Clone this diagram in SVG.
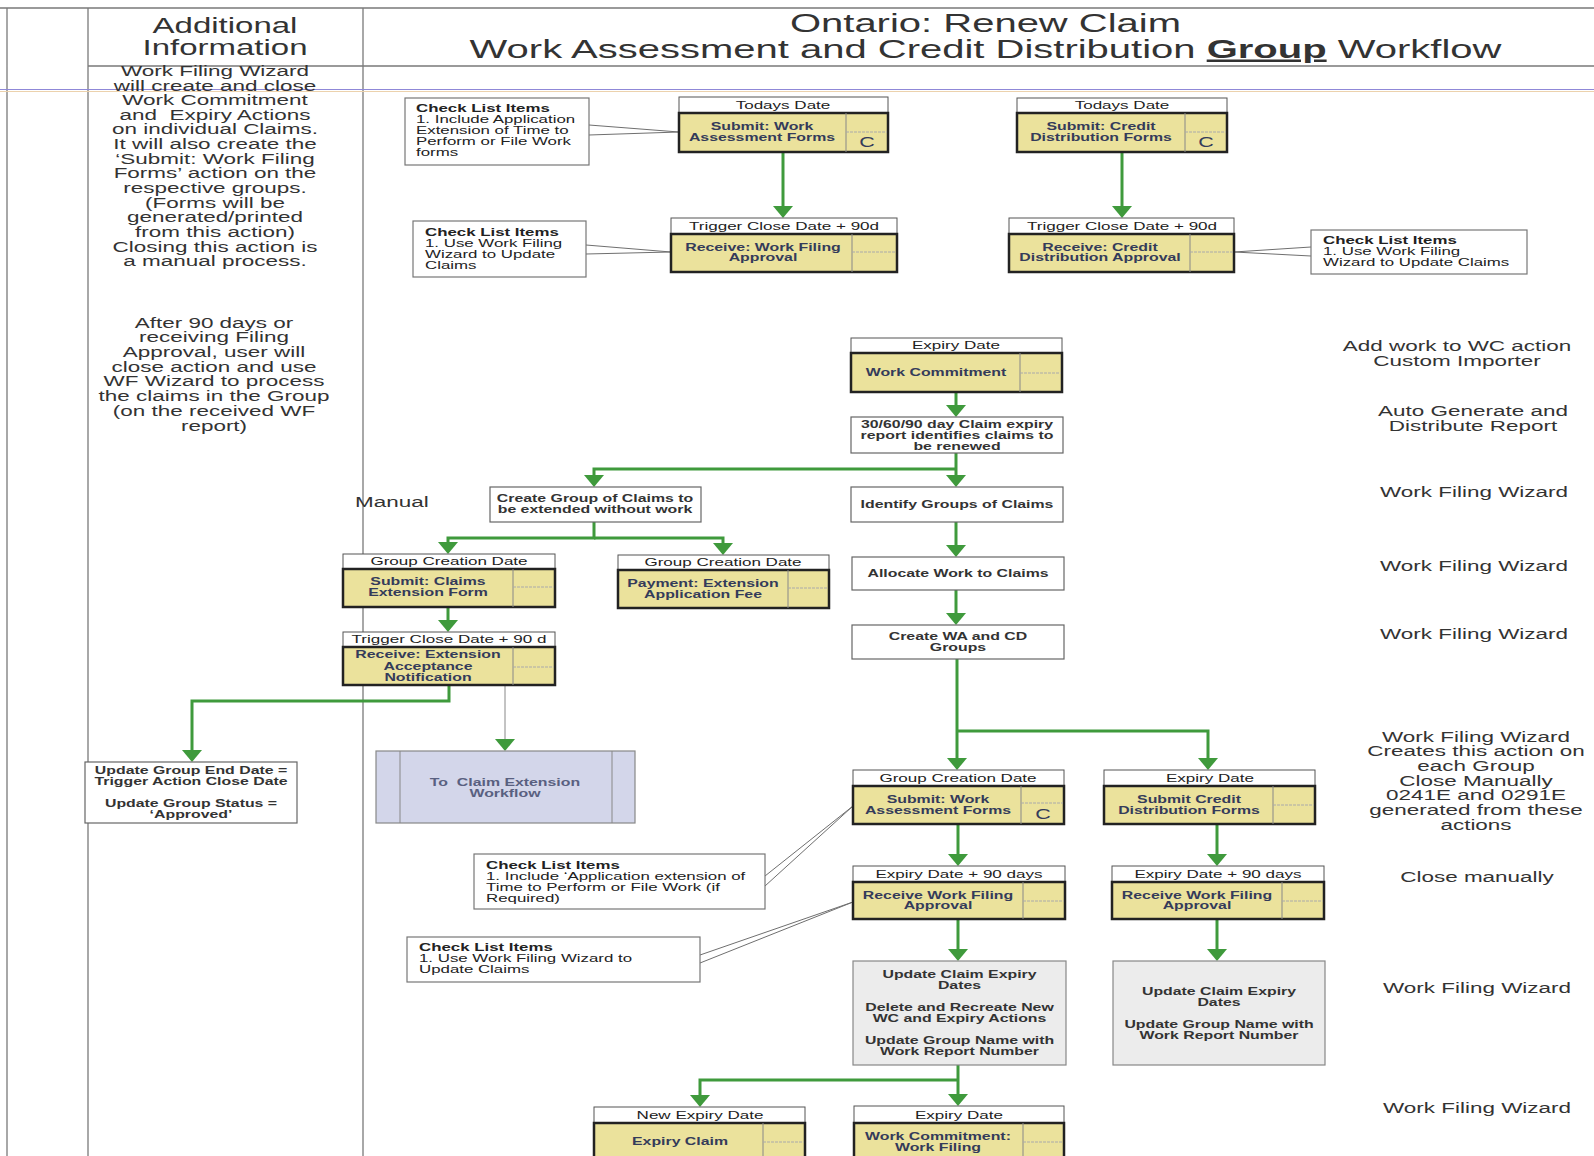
<svg xmlns="http://www.w3.org/2000/svg" width="1594" height="1156" viewBox="0 0 1594 1156">
<defs>
<style>
text{font-family:"Liberation Sans",Arial,sans-serif}
.frame{fill:none;stroke:#7a7a7a;stroke-width:1.3}
.hd{fill:#fff;stroke:#555;stroke-width:1}
.bd{fill:#ebe29c;stroke:#222;stroke-width:2.5}
.col{fill:none;stroke:#888;stroke-width:1}
.dv{fill:none;stroke:#aaa;stroke-width:1;stroke-dasharray:3 1}
.pb{fill:#fff;stroke:#666;stroke-width:1.2}
.ub{fill:#ececec;stroke:#888;stroke-width:1.2}
.xb{fill:#d3d6ea;stroke:#888;stroke-width:1.2}
.cl{fill:#fff;stroke:#777;stroke-width:1.2}
.co{fill:none;stroke:#6f6f6f;stroke-width:1}
.flow{fill:none;stroke:#3f9a3c;stroke-width:3}
.thin{fill:none;stroke:#888;stroke-width:1}
.t{font-size:25px;fill:#333;text-anchor:middle}
.ai{font-size:22px;fill:#333;text-anchor:middle}
.n{font-size:14.5px;fill:#333;text-anchor:middle}
.h{font-size:11px;fill:#222;text-anchor:middle}
.b{font-size:10.5px;font-weight:bold;fill:#343b5a;text-anchor:middle}
.g{font-size:10.5px;font-weight:bold;fill:#333;text-anchor:middle}
.x{font-size:10.5px;font-weight:bold;fill:#596080;text-anchor:middle}
.c{font-size:10.8px;fill:#222}
.c .k{font-weight:bold}
.cc{font-size:15px;fill:#343b5a;text-anchor:middle}
</style>
<marker id="ah" markerUnits="userSpaceOnUse" markerWidth="12" markerHeight="20" refX="0" refY="10" orient="auto" viewBox="0 0 12 20"><path d="M0,0 L12,10 L0,20 Z" fill="#3f9a3c"/></marker>
</defs>
<rect width="1594" height="1156" fill="#fff"/>

<g id="frame">
<path class="frame" d="M0,8 H1594 M7,8 V1156 M88,8 V1156 M363,8 V1156 M88,66 H1594"/>
<path d="M0,89.5 H1594" stroke="#8f88d8" stroke-width="1"/>
<path d="M0,91.5 H1594" stroke="#ecd2ad" stroke-width="1"/>
</g>

<g id="headings">
<text class="t" transform="matrix(1.6 0 0 1 985.5 0)"><tspan x="0" y="32">Ontario: Renew Claim</tspan><tspan x="0" y="58">Work Assessment and Credit Distribution <tspan font-weight="bold" text-decoration="underline">Group</tspan> Workflow</tspan></text>
<text class="ai" transform="matrix(1.5 0 0 1 225 0)"><tspan x="0" y="33">Additional</tspan><tspan x="0" y="55.5">Information</tspan></text>
</g>

<g id="notes">
<text class="n" transform="matrix(1.55 0 0 1 215 0)" xml:space="preserve"><tspan x="0" y="76">Work Filing Wizard</tspan><tspan x="0" y="90.6">will create and close</tspan><tspan x="0" y="105.3">Work Commitment</tspan><tspan x="0" y="119.9">and  Expiry Actions</tspan><tspan x="0" y="134.5">on individual Claims.</tspan><tspan x="0" y="149.2">It will also create the</tspan><tspan x="0" y="163.8">‘Submit: Work Filing</tspan><tspan x="0" y="178.5">Forms’ action on the</tspan><tspan x="0" y="193.1">respective groups.</tspan><tspan x="0" y="207.7">(Forms will be</tspan><tspan x="0" y="222.4">generated/printed</tspan><tspan x="0" y="237">from this action)</tspan><tspan x="0" y="251.6">Closing this action is</tspan><tspan x="0" y="266.3">a manual process.</tspan></text>
<text class="n" transform="matrix(1.55 0 0 1 214 0)"><tspan x="0" y="327.7">After 90 days or</tspan><tspan x="0" y="342.4">receiving Filing</tspan><tspan x="0" y="357.1">Approval, user will</tspan><tspan x="0" y="371.8">close action and use</tspan><tspan x="0" y="386.5">WF Wizard to process</tspan><tspan x="0" y="401.2">the claims in the Group</tspan><tspan x="0" y="415.9">(on the received WF</tspan><tspan x="0" y="430.6">report)</tspan></text>
<text class="n" transform="matrix(1.55 0 0 1 355 0)" style="text-anchor:start"><tspan x="0" y="507.5">Manual</tspan></text>
<text class="n" transform="matrix(1.55 0 0 1 1457 0)"><tspan x="0" y="351">Add work to WC action</tspan><tspan x="0" y="365.7">Custom Importer</tspan></text>
<text class="n" transform="matrix(1.55 0 0 1 1473 0)"><tspan x="0" y="416">Auto Generate and</tspan><tspan x="0" y="431">Distribute Report</tspan></text>
<text class="n" transform="matrix(1.55 0 0 1 1474 0)"><tspan x="0" y="497.3">Work Filing Wizard</tspan></text>
<text class="n" transform="matrix(1.55 0 0 1 1474 0)"><tspan x="0" y="570.7">Work Filing Wizard</tspan></text>
<text class="n" transform="matrix(1.55 0 0 1 1474 0)"><tspan x="0" y="639">Work Filing Wizard</tspan></text>
<text class="n" transform="matrix(1.55 0 0 1 1476 0)"><tspan x="0" y="741.7">Work Filing Wizard</tspan><tspan x="0" y="756.4">Creates this action on</tspan><tspan x="0" y="771.1">each Group</tspan><tspan x="0" y="785.8">Close Manually</tspan><tspan x="0" y="800.5">0241E and 0291E</tspan><tspan x="0" y="815.2">generated from these</tspan><tspan x="0" y="829.9">actions</tspan></text>
<text class="n" transform="matrix(1.55 0 0 1 1477 0)"><tspan x="0" y="881.7">Close manually</tspan></text>
<text class="n" transform="matrix(1.55 0 0 1 1477 0)"><tspan x="0" y="992.7">Work Filing Wizard</tspan></text>
<text class="n" transform="matrix(1.55 0 0 1 1477 0)"><tspan x="0" y="1113.3">Work Filing Wizard</tspan></text>
</g>

<g id="connectors">
<path class="flow" marker-end="url(#ah)" d="M783,152 V206"/>
<path class="flow" marker-end="url(#ah)" d="M1122,152 V206"/>
<path class="flow" marker-end="url(#ah)" d="M956,392 V405"/>
<path class="flow" marker-end="url(#ah)" d="M956,453 V475"/>
<path class="flow" marker-end="url(#ah)" d="M956,469 H594 V475"/>
<path class="flow" marker-end="url(#ah)" d="M956,522 V545"/>
<path class="flow" marker-end="url(#ah)" d="M956,590 V613"/>
<path class="flow" marker-end="url(#ah)" d="M594,522 V538 H448 V542"/>
<path class="flow" marker-end="url(#ah)" d="M594,538 H723 V543"/>
<path class="flow" marker-end="url(#ah)" d="M448,607 V620"/>
<path class="flow" marker-end="url(#ah)" d="M449,685 V701 H192 V750"/>
<path class="thin" d="M505,685 V740"/>
<path d="M495,739 L515,739 L505,751 Z" fill="#3f9a3c"/>
<path class="flow" marker-end="url(#ah)" d="M957,659 V758"/>
<path class="flow" marker-end="url(#ah)" d="M957,731 H1208 V758"/>
<path class="flow" marker-end="url(#ah)" d="M958,824 V854"/>
<path class="flow" marker-end="url(#ah)" d="M1217,824 V854"/>
<path class="flow" marker-end="url(#ah)" d="M958,919 V949"/>
<path class="flow" marker-end="url(#ah)" d="M1217,919 V949"/>
<path class="flow" marker-end="url(#ah)" d="M958,1065 V1094"/>
<path class="flow" marker-end="url(#ah)" d="M958,1080 H700 V1095"/>
<polyline class="co" points="589,125 679,132 589,135"/>
<polyline class="co" points="586,245 671,252 586,254"/>
<polyline class="co" points="1311,247 1234,252 1311,256"/>
<polyline class="co" points="765,876 853,806 765,886"/>
<polyline class="co" points="700,955 853,902 700,963"/>
</g>

<g id="a1">
<rect class="hd" x="679" y="97" width="209" height="16"/>
<rect class="bd" x="679" y="113" width="209" height="39"/>
<path class="col" d="M846,113 V152"/><path class="dv" d="M846,132 H887"/>
<text class="h" transform="matrix(1.55 0 0 1 783 0)" y="109">Todays Date</text>
<text class="b" transform="matrix(1.51 0 0 1 762 0)"><tspan x="0" y="130.5">Submit: Work</tspan><tspan x="0" y="141.5">Assessment Forms</tspan></text>
<text class="cc" transform="matrix(1.43 0 0 1 867 0)" y="147.5">C</text>
</g>

<g id="a2">
<rect class="hd" x="1017" y="98" width="210" height="15"/>
<rect class="bd" x="1017" y="113" width="210" height="39"/>
<path class="col" d="M1185,113 V152"/><path class="dv" d="M1185,132 H1226"/>
<text class="h" transform="matrix(1.55 0 0 1 1122 0)" y="109">Todays Date</text>
<text class="b" transform="matrix(1.51 0 0 1 1101 0)"><tspan x="0" y="130.5">Submit: Credit</tspan><tspan x="0" y="141.5">Distribution Forms</tspan></text>
<text class="cc" transform="matrix(1.43 0 0 1 1206 0)" y="147.5">C</text>
</g>

<g id="a3">
<rect class="hd" x="671" y="218" width="226" height="16"/>
<rect class="bd" x="671" y="234" width="226" height="38"/>
<path class="col" d="M852,234 V272"/><path class="dv" d="M852,252 H896"/>
<text class="h" transform="matrix(1.55 0 0 1 784 0)" y="230">Trigger Close Date + 90d</text>
<text class="b" transform="matrix(1.51 0 0 1 763 0)"><tspan x="0" y="251">Receive: Work Filing</tspan><tspan x="0" y="261.5">Approval</tspan></text>
</g>

<g id="a4">
<rect class="hd" x="1009" y="218" width="225" height="16"/>
<rect class="bd" x="1009" y="234" width="225" height="38"/>
<path class="col" d="M1190,234 V272"/><path class="dv" d="M1190,252 H1233"/>
<text class="h" transform="matrix(1.55 0 0 1 1122 0)" y="230">Trigger Close Date + 90d</text>
<text class="b" transform="matrix(1.51 0 0 1 1100 0)"><tspan x="0" y="251">Receive: Credit</tspan><tspan x="0" y="261.5">Distribution Approval</tspan></text>
</g>

<g id="cl1">
<rect class="cl" x="405" y="98" width="184" height="67"/>
<text class="c" transform="matrix(1.56 0 0 1 416 0)"><tspan class="k" x="0" y="112">Check List Items</tspan><tspan x="0" y="123">1. Include Application</tspan><tspan x="0" y="134">Extension of Time to</tspan><tspan x="0" y="145">Perform or File Work</tspan><tspan x="0" y="156">forms</tspan></text>
</g>

<g id="cl2">
<rect class="cl" x="413" y="221" width="173" height="56"/>
<text class="c" transform="matrix(1.56 0 0 1 425 0)"><tspan class="k" x="0" y="236.5">Check List Items</tspan><tspan x="0" y="247.5">1. Use Work Filing</tspan><tspan x="0" y="258.5">Wizard to Update</tspan><tspan x="0" y="269.5">Claims</tspan></text>
</g>

<g id="cl3">
<rect class="cl" x="1311" y="230" width="216" height="44"/>
<text class="c" transform="matrix(1.56 0 0 1 1323 0)"><tspan class="k" x="0" y="244.5">Check List Items</tspan><tspan x="0" y="255.5">1. Use Work Filing</tspan><tspan x="0" y="266.5">Wizard to Update Claims</tspan></text>
</g>

<g id="wc">
<rect class="hd" x="851" y="338" width="211" height="15"/>
<rect class="bd" x="851" y="353" width="211" height="39"/>
<path class="col" d="M1020,353 V392"/><path class="dv" d="M1020,373 H1061"/>
<text class="h" transform="matrix(1.55 0 0 1 956 0)" y="349.5">Expiry Date</text>
<text class="b" transform="matrix(1.51 0 0 1 936 0)" y="376.5">Work Commitment</text>
</g>

<g id="p1">
<rect class="pb" x="851" y="417" width="212" height="36"/>
<text class="g" transform="matrix(1.51 0 0 1 957 0)"><tspan x="0" y="428">30/60/90 day Claim expiry</tspan><tspan x="0" y="439">report identifies claims to</tspan><tspan x="0" y="450">be renewed</tspan></text>
</g>

<g id="p2">
<rect class="pb" x="851" y="487" width="212" height="35"/>
<text class="g" transform="matrix(1.51 0 0 1 957 0)" y="508.5">Identify Groups of Claims</text>
</g>

<g id="p3">
<rect class="pb" x="852" y="557" width="212" height="33"/>
<text class="g" transform="matrix(1.51 0 0 1 958 0)" y="577.5">Allocate Work to Claims</text>
</g>

<g id="p4">
<rect class="pb" x="852" y="625" width="212" height="34"/>
<text class="g" transform="matrix(1.51 0 0 1 958 0)"><tspan x="0" y="640.5">Create WA and CD</tspan><tspan x="0" y="651.5">Groups</tspan></text>
</g>

<g id="p5">
<rect class="pb" x="490" y="487" width="211" height="35"/>
<text class="g" transform="matrix(1.51 0 0 1 595 0)"><tspan x="0" y="502.5">Create Group of Claims to</tspan><tspan x="0" y="513.5">be extended without work</tspan></text>
</g>

<g id="a5">
<rect class="hd" x="343" y="554" width="212" height="15"/>
<rect class="bd" x="343" y="569" width="212" height="38"/>
<path class="col" d="M513,569 V607"/><path class="dv" d="M513,587 H554"/>
<text class="h" transform="matrix(1.55 0 0 1 449 0)" y="565.5">Group Creation Date</text>
<text class="b" transform="matrix(1.51 0 0 1 428 0)"><tspan x="0" y="585.5">Submit: Claims</tspan><tspan x="0" y="596.5">Extension Form</tspan></text>
</g>

<g id="a6">
<rect class="hd" x="618" y="555" width="211" height="15"/>
<rect class="bd" x="618" y="570" width="211" height="38"/>
<path class="col" d="M788,570 V608"/><path class="dv" d="M788,588 H828"/>
<text class="h" transform="matrix(1.55 0 0 1 723 0)" y="566">Group Creation Date</text>
<text class="b" transform="matrix(1.51 0 0 1 703 0)"><tspan x="0" y="587.5">Payment: Extension</tspan><tspan x="0" y="598.5">Application Fee</tspan></text>
</g>

<g id="a7">
<rect class="hd" x="343" y="632" width="212" height="15"/>
<rect class="bd" x="343" y="647" width="212" height="38"/>
<path class="col" d="M513,647 V685"/><path class="dv" d="M513,667 H554"/>
<text class="h" transform="matrix(1.55 0 0 1 449 0)" y="643.5">Trigger Close Date + 90 d</text>
<text class="b" transform="matrix(1.51 0 0 1 428 0)"><tspan x="0" y="658.5">Receive: Extension</tspan><tspan x="0" y="670">Acceptance</tspan><tspan x="0" y="681">Notification</tspan></text>
</g>

<g id="p6">
<rect class="pb" x="85" y="762" width="212" height="61"/>
<text class="g" transform="matrix(1.51 0 0 1 191 0)"><tspan x="0" y="774.5">Update Group End Date =</tspan><tspan x="0" y="785.5">Trigger Action Close Date</tspan><tspan x="0" y="807.5">Update Group Status =</tspan><tspan x="0" y="818.5">‘Approved’</tspan></text>
</g>

<g id="p7">
<rect class="xb" x="376" y="751" width="259" height="72"/>
<path class="thin" d="M400,751 V823 M612,751 V823"/>
<text class="x" transform="matrix(1.51 0 0 1 505 0)" xml:space="preserve"><tspan x="0" y="786.5">To  Claim Extension</tspan><tspan x="0" y="797.5">Workflow</tspan></text>
</g>

<g id="cl4">
<rect class="cl" x="474" y="854" width="291" height="55"/>
<text class="c" transform="matrix(1.56 0 0 1 486 0)"><tspan class="k" x="0" y="869.5">Check List Items</tspan><tspan x="0" y="880.5">1. Include ‘Application extension of</tspan><tspan x="0" y="891.5">Time to Perform or File Work (if</tspan><tspan x="0" y="902.5">Required)</tspan></text>
</g>

<g id="cl5">
<rect class="cl" x="407" y="937" width="293" height="45"/>
<text class="c" transform="matrix(1.56 0 0 1 419 0)"><tspan class="k" x="0" y="951.5">Check List Items</tspan><tspan x="0" y="962.5">1. Use Work Filing Wizard to</tspan><tspan x="0" y="973.5">Update Claims</tspan></text>
</g>

<g id="a8">
<rect class="hd" x="853" y="770" width="211" height="16"/>
<rect class="bd" x="853" y="786" width="211" height="38"/>
<path class="col" d="M1021,786 V824"/><path class="dv" d="M1021,803 H1063"/>
<text class="h" transform="matrix(1.55 0 0 1 958 0)" y="782">Group Creation Date</text>
<text class="b" transform="matrix(1.51 0 0 1 938 0)"><tspan x="0" y="803">Submit: Work</tspan><tspan x="0" y="814">Assessment Forms</tspan></text>
<text class="cc" transform="matrix(1.43 0 0 1 1043 0)" y="819.5">C</text>
</g>

<g id="a9">
<rect class="hd" x="1104" y="770" width="211" height="16"/>
<rect class="bd" x="1104" y="786" width="211" height="38"/>
<path class="col" d="M1273,786 V824"/><path class="dv" d="M1273,805 H1314"/>
<text class="h" transform="matrix(1.55 0 0 1 1210 0)" y="782">Expiry Date</text>
<text class="b" transform="matrix(1.51 0 0 1 1189 0)"><tspan x="0" y="803">Submit Credit</tspan><tspan x="0" y="814">Distribution Forms</tspan></text>
</g>

<g id="a10">
<rect class="hd" x="853" y="866" width="212" height="16"/>
<rect class="bd" x="853" y="882" width="212" height="37"/>
<path class="col" d="M1023,882 V919"/><path class="dv" d="M1023,901 H1064"/>
<text class="h" transform="matrix(1.55 0 0 1 959 0)" y="878">Expiry Date + 90 days</text>
<text class="b" transform="matrix(1.51 0 0 1 938 0)"><tspan x="0" y="899">Receive Work Filing</tspan><tspan x="0" y="909.5">Approval</tspan></text>
</g>

<g id="a11">
<rect class="hd" x="1112" y="866" width="212" height="16"/>
<rect class="bd" x="1112" y="882" width="212" height="37"/>
<path class="col" d="M1282,882 V919"/><path class="dv" d="M1282,901 H1323"/>
<text class="h" transform="matrix(1.55 0 0 1 1218 0)" y="878">Expiry Date + 90 days</text>
<text class="b" transform="matrix(1.51 0 0 1 1197 0)"><tspan x="0" y="899">Receive Work Filing</tspan><tspan x="0" y="909.5">Approval</tspan></text>
</g>

<g id="u1">
<rect class="ub" x="853" y="961" width="213" height="104"/>
<text class="g" transform="matrix(1.51 0 0 1 959.5 0)"><tspan x="0" y="978">Update Claim Expiry</tspan><tspan x="0" y="989">Dates</tspan><tspan x="0" y="1011">Delete and Recreate New</tspan><tspan x="0" y="1022">WC and Expiry Actions</tspan><tspan x="0" y="1044">Update Group Name with</tspan><tspan x="0" y="1055">Work Report Number</tspan></text>
</g>

<g id="u2">
<rect class="ub" x="1113" y="961" width="212" height="104"/>
<text class="g" transform="matrix(1.51 0 0 1 1219 0)"><tspan x="0" y="995">Update Claim Expiry</tspan><tspan x="0" y="1006">Dates</tspan><tspan x="0" y="1028">Update Group Name with</tspan><tspan x="0" y="1039">Work Report Number</tspan></text>
</g>

<g id="a12">
<rect class="hd" x="594" y="1107" width="211" height="16"/>
<rect class="bd" x="594" y="1123" width="211" height="45"/>
<path class="col" d="M763,1123 V1168"/><path class="dv" d="M763,1142 H804"/>
<text class="h" transform="matrix(1.55 0 0 1 700 0)" y="1119">New Expiry Date</text>
<text class="b" transform="matrix(1.51 0 0 1 680 0)" y="1145.5">Expiry Claim</text>
</g>

<g id="a13">
<rect class="hd" x="854" y="1106" width="210" height="17"/>
<rect class="bd" x="854" y="1123" width="210" height="45"/>
<path class="col" d="M1023,1123 V1168"/><path class="dv" d="M1023,1142 H1063"/>
<text class="h" transform="matrix(1.55 0 0 1 959 0)" y="1119">Expiry Date</text>
<text class="b" transform="matrix(1.51 0 0 1 938 0)"><tspan x="0" y="1140">Work Commitment:</tspan><tspan x="0" y="1151">Work Filing</tspan></text>
</g>
</svg>
